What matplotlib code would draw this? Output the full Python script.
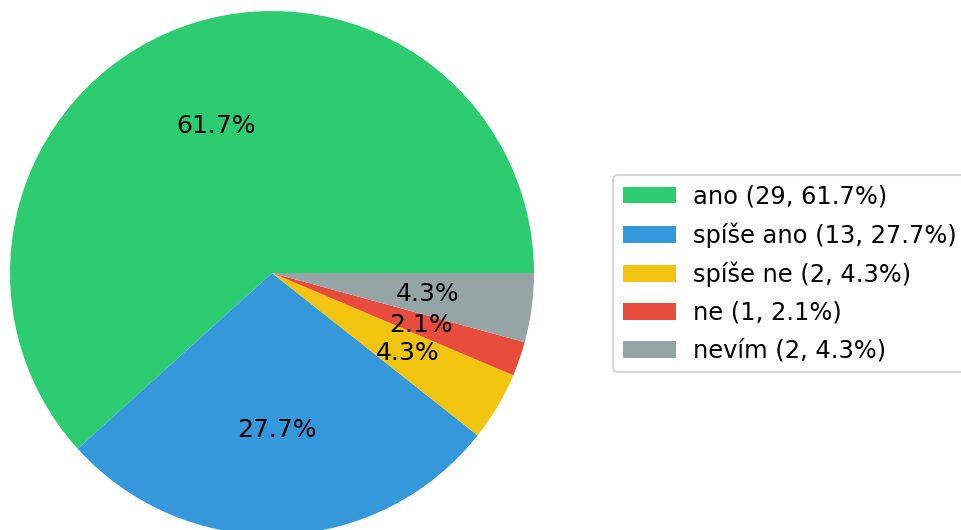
import matplotlib
matplotlib.use("Agg")
import matplotlib.pyplot as plt

labels = ["ano", "spíše ano", "spíše ne", "ne", "nevím"]
counts = [29, 13, 2, 1, 2]
colors = ["#2ecc71", "#3498db", "#f1c40f", "#e74c3c", "#95a5a6"]

total = sum(counts)
legend_labels = ["{} ({}, {:.1f}%)".format(l, c, 100. * c / total)
                 for l, c in zip(labels, counts)]

dpi = 150
fig = plt.figure(figsize=(961 / dpi, 530 / dpi), dpi=dpi)
ax = fig.add_axes([10 / 961, -5 / 530, 524 / 961, 524 / 530])

wedges, texts, autotexts = ax.pie(counts, colors=colors, autopct="%1.1f%%",
                                  startangle=0, textprops={"fontsize": 12})
ax.set_xlim(-1, 1)
ax.set_ylim(-1, 1)
ax.set_aspect("equal")

fig.legend(wedges, legend_labels, loc="center left",
           bbox_to_anchor=(613 / 961, (530 - 273.5) / 530), fontsize=11.6,
           borderaxespad=0, handlelength=2.2, handletextpad=0.7,
           labelspacing=0.57)

fig.savefig("out.png", dpi=dpi)
